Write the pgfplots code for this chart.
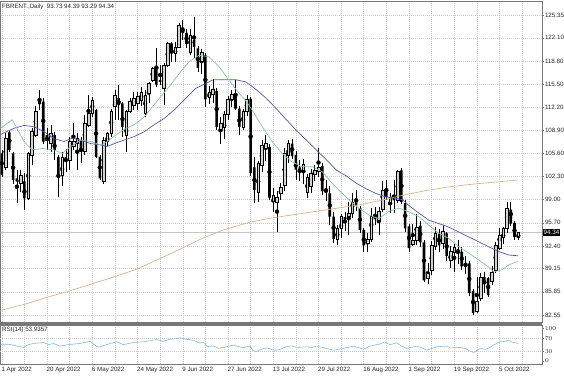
\documentclass[border=0pt]{standalone}
\usepackage{fontspec}
\setmainfont{Liberation Sans}
\usepackage{pgfplots}
\usepackage{pgfplotstable}
\pgfplotsset{compat=1.18}
\definecolor{gridc}{RGB}{205,205,205}
\definecolor{bullc}{RGB}{210,210,210}
\definecolor{maA}{RGB}{135,195,165}
\definecolor{maB}{RGB}{85,85,170}
\definecolor{maC}{RGB}{215,180,140}
\definecolor{rsic}{RGB}{130,185,230}
\definecolor{framec}{RGB}{120,120,120}
\newcommand\chfont{\fontsize{6.2bp}{7bp}\selectfont}

\pgfplotstableread{
x o h l c
0 105.6 106.1 102.3 102.5
1 103.7 108.5 103.2 107.75
2 108.6 109.0 105.85 106.1
3 105.6 105.85 101.3 101.8
4 102.05 103.2 98.5 101.57
5 101.3 103.2 100.15 102.5
6 101.6 102.8 97.5 99.2
7 99.2 105.85 98.96 105.6
8 105.4 109.2 103.95 108.7
9 108.2 112.3 108.0 111.56
10 113.2 114.65 111.8 112.65
11 113.0 113.5 107.0 107.3
12 108.2 109.2 106.1 107.5
13 107.0 109.65 105.85 108.5
14 108.2 108.7 104.66 106.1
15 105.1 105.4 99.4 102.3
16 102.5 105.85 100.9 105.1
17 105.1 106.3 103.0 104.8
18 104.66 108.0 103.2 107.3
19 106.6 109.9 106.1 107.3
20 107.0 108.5 103.2 107.75
21 107.5 108.0 104.2 105.85
22 105.85 111.1 105.4 109.9
23 109.65 113.9 109.4 111.3
24 111.3 113.7 110.85 113.2
25 111.8 112.0 104.9 105.1
26 105.1 105.4 101.8 102.05
27 101.57 108.0 101.3 107.5
28 107.3 108.7 106.6 108.5
29 108.5 112.0 108.0 111.56
30 112.3 114.65 110.4 113.9
31 113.5 115.4 110.4 112.5
32 112.75 113.0 108.0 109.4
33 108.2 111.8 105.85 111.56
34 111.56 113.5 111.3 113.0
35 112.5 114.4 111.8 113.5
36 112.75 114.4 111.8 113.8
37 113.2 115.1 112.3 114.4
38 111.3 114.65 110.85 113.9
39 114.2 115.8 112.75 115.6
40 116.1 118.0 115.8 117.7
41 118.0 120.6 115.1 115.4
42 116.1 118.2 115.4 115.8
43 114.9 118.45 112.5 118.2
44 118.2 121.55 118.0 121.3
45 121.3 121.55 118.7 120.1
46 119.9 121.55 118.7 120.8
47 120.8 124.2 120.6 123.9
48 123.6 124.6 121.8 122.8
49 122.8 123.4 120.6 121.2
50 120.0 123.3 119.6 122.4
51 121.8 125.1 119.2 120.8
52 120.6 121.0 117.2 117.8
53 118.7 120.5 117.0 120.1
54 119.6 120.0 112.2 113.3
55 113.6 115.2 112.6 114.3
56 114.0 116.2 112.8 114.8
57 114.5 114.9 109.0 109.4
58 109.0 110.8 107.0 109.9
59 109.4 111.6 107.6 111.2
60 111.2 113.8 110.4 113.4
61 113.4 114.6 112.2 114.0
62 114.0 116.1 111.8 112.0
63 112.0 112.4 108.2 109.4
64 109.4 112.0 109.0 111.6
65 111.6 113.9 111.0 113.4
66 113.4 113.6 102.4 102.8
67 103.6 105.1 98.5 100.4
68 100.1 104.5 98.7 104.2
69 103.9 107.5 103.0 106.8
70 106.3 108.3 104.5 107.1
71 106.5 106.9 99.0 99.3
72 98.8 100.6 97.2 99.6
73 98.7 100.2 94.4 99.3
74 99.9 101.4 98.9 100.8
75 101.0 106.4 100.2 105.7
76 105.3 107.5 104.2 107.0
77 107.0 107.6 104.8 105.2
78 105.4 106.0 101.8 103.3
79 103.6 104.6 101.6 102.9
80 103.2 104.8 101.3 104.0
81 100.0 102.6 99.3 102.2
82 100.9 103.4 100.0 102.8
83 102.6 104.0 101.6 103.2
84 103.0 106.4 102.2 103.7
85 103.8 104.2 99.6 100.2
86 100.6 101.8 98.8 100.0
87 99.9 101.0 95.4 96.6
88 96.6 97.2 92.8 93.4
89 93.3 95.4 92.6 94.9
90 94.9 97.0 93.5 96.6
91 96.5 97.2 94.6 96.2
92 96.6 98.7 94.0 97.1
93 97.1 99.9 96.4 98.6
94 99.0 100.4 97.4 98.2
95 97.8 98.1 94.2 94.7
96 94.7 95.0 91.6 92.5
97 92.8 94.2 91.6 93.3
98 93.3 97.8 93.0 96.6
99 96.8 98.0 95.4 96.2
100 96.0 98.0 93.9 97.4
101 97.6 101.6 97.2 100.4
102 100.6 101.8 98.9 99.4
103 98.7 99.9 97.1 99.4
104 99.5 101.8 97.1 98.9
105 98.9 103.3 98.5 103.0
106 103.2 103.5 98.4 98.7
107 98.5 99.0 94.4 94.9
108 95.2 95.6 91.5 92.1
109 92.7 95.5 92.4 93.2
110 93.2 96.9 92.6 95.1
111 95.3 95.9 92.3 92.9
112 92.9 93.3 87.3 87.5
113 87.8 90.0 87.0 88.5
114 89.0 93.1 88.2 92.5
115 92.3 95.1 91.8 94.2
116 94.2 94.8 91.6 92.5
117 92.8 95.4 92.0 94.5
118 94.2 94.4 90.3 91.0
119 90.4 92.4 89.2 91.6
120 91.5 92.7 88.7 92.2
121 92.0 93.3 89.8 91.4
122 91.6 92.3 88.9 89.5
123 90.0 91.0 88.4 89.6
124 89.9 90.2 85.2 85.7
125 86.0 86.3 82.5 82.8
126 83.1 88.0 82.8 84.5
127 84.9 88.5 84.6 88.0
128 88.0 88.7 85.7 87.3
129 87.8 88.0 85.1 85.4
130 87.4 89.6 86.9 88.7
131 89.0 93.0 88.5 92.5
132 92.1 94.9 91.8 93.9
133 93.7 95.1 92.7 94.9
134 94.9 98.7 94.3 97.8
135 97.6 98.7 95.2 95.6
136 95.7 96.0 93.2 93.7
137 93.73 94.39 93.29 94.34
}\candles

\pgfplotsset{
  mainax/.style={
    at={(0.5bp,54bp)}, anchor=south west,
    scale only axis, width=541.5bp, height=321bp,
    xmin=-0.345, xmax=143.29, ymin=81.55, ymax=127.35,
  },
  blankax/.style={mainax, axis lines=none, xtick=\empty, ytick=\empty},
}

\begin{document}
\begin{tikzpicture}
\useasboundingbox (0,0) rectangle (564bp,376bp);
% background: grid, wicks
\begin{axis}[mainax,
  axis line style={framec, line width=0.8bp},
  xtick={0,6,...,138}, xticklabels={},
  x tick style={draw=none},
  ytick={82.55,85.85,89.15,92.40,95.70,99.00,102.30,105.60,108.90,112.20,115.50,118.80,122.10,125.35},
  yticklabels={82.55,85.85,89.15,92.40,95.70,99.00,102.30,105.60,108.90,112.20,115.50,118.80,122.10,125.35},
  yticklabel pos=right,
  y tick style={framec, line width=0.5bp},
  tick align=outside, major tick length=2bp,
  yticklabel style={font=\chfont, inner sep=0.8bp, text=black!85},
  grid=major, grid style={gridc, line width=0.5bp, dash pattern=on 1bp off 1bp},
]
\addplot[gray!45, line width=0.5bp] coordinates {(-1,94.34) (150,94.34)};
\addplot[only marks, mark=none, error bars/.cd, y dir=both, y explicit, error mark=none,
  error bar style={black, line width=0.6bp}]
  table[x=x, y expr={(\thisrow{h}+\thisrow{l})/2}, y error expr={(\thisrow{h}-\thisrow{l})/2}] {\candles};
\end{axis}
% bodies
\begin{axis}[blankax, ybar stacked, bar width=2.6bp]
\addplot[draw=none, fill=none] table[x=x, y expr={min(\thisrow{o},\thisrow{c})}] {\candles};
\addplot[fill=bullc, draw=black, line width=0.45bp] table[x=x, y expr={max(\thisrow{c}-\thisrow{o},0)}] {\candles};
\addplot[fill=black, draw=none] table[x=x, y expr={max(\thisrow{o}-\thisrow{c},0)}] {\candles};
\end{axis}
% moving averages
\begin{axis}[blankax]
\addplot[maC, line width=0.7bp] coordinates {(-0.35,83.2) (6.2,84.1) (12.8,85.2) (18.1,86.0) (23.4,86.9) (28.7,87.8) (35.8,89.1) (42,90.6) (47.5,92.0) (52.8,93.4) (58.9,94.7) (65.2,95.7) (70.5,96.3) (76.7,96.8) (82.9,97.3) (89.1,97.8) (95.2,98.3) (100.5,98.9) (105.3,99.5) (112.4,100.3) (119.5,100.9) (126.5,101.3) (134.9,101.7) (136.9,101.8)};
\addplot[maB, line width=0.7bp] coordinates {(-0.35,108.3) (3.3,109.2) (5.9,109.6) (8.6,109.4) (11.2,108.7) (13.9,107.7) (16.5,107.3) (18.8,107.8) (21,107.5) (23.6,107.0) (26.3,106.8) (28,106.6) (29.8,107.0) (32.4,107.5) (35.1,108.0) (37.8,108.7) (40.4,109.7) (43.1,110.6) (45.7,111.8) (48.9,113.5) (51.5,114.9) (54.2,115.6) (56,116.1) (59.5,116.1) (62.2,116.1) (64.8,115.8) (67.5,114.7) (70.1,113.5) (72.8,112.0) (75.5,110.4) (78.1,108.9) (80.8,107.5) (83.4,106.1) (86.1,104.7) (88.8,103.2) (91.3,102.4) (93.9,101.4) (96.5,100.6) (99.2,99.9) (101.9,99.4) (104.5,99.2) (106.3,99.0) (107.9,98.2) (110.6,97.1) (113.2,96.1) (115.9,95.6) (118.5,95.1) (121.2,94.4) (123.8,93.7) (126.5,93.0) (129.1,92.3) (131.8,91.6) (134.5,91.1) (136.9,91.0)};
\addplot[maA, line width=0.7bp] coordinates {(-0.35,109.2) (2.8,110.4) (5.9,107.3) (8.1,106.1) (10.8,106.3) (13.9,106.1) (16.1,105.6) (18.3,106.6) (21,107.5) (23.6,107.3) (26.3,106.8) (28,107.3) (30.2,108.2) (32.4,109.0) (35.1,109.7) (37.8,110.8) (40,112.3) (42.2,113.7) (44.8,115.4) (47.5,117.3) (49.7,118.7) (52.3,119.6) (54.9,119.4) (57.6,118.0) (60.2,116.1) (62.9,114.2) (64.6,113.2) (66.4,111.8) (69.1,109.4) (71.7,107.3) (74.4,105.6) (77,104.4) (79.7,103.7) (82.3,103.7) (85,103.0) (87.7,101.3) (90.3,99.9) (92.5,98.8) (94.7,97.8) (97.4,96.8) (100,96.3) (102.6,97.3) (105.3,97.8) (107.9,97.3) (110.6,96.6) (113.2,95.4) (115.9,94.2) (118.5,93.5) (121.2,92.3) (123.8,91.4) (126.5,90.4) (129.1,89.4) (130.5,88.7) (132.7,89.0) (134.5,89.7) (136.9,90.2)};
\end{axis}
% RSI panel
\begin{axis}[at={(0.5bp,12bp)}, anchor=south west, scale only axis,
  width=541.5bp, height=39bp,
  xmin=-0.345, xmax=143.29, ymin=-9.2, ymax=110.1,
  axis line style={framec, line width=0.8bp},
  xtick={0,6,...,138},
  xticklabels={1 Apr 2022,{},20 Apr 2022,{},6 May 2022,{},24 May 2022,{},9 Jun 2022,{},27 Jun 2022,{},13 Jul 2022,{},29 Jul 2022,{},16 Aug 2022,{},1 Sep 2022,{},19 Sep 2022,{},5 Oct 2022,{}},
  xticklabel style={font=\chfont, anchor=north west, inner sep=0.5bp, xshift=-1bp, text=black!85},
  x tick style={draw=none},
  xmajorgrids, grid style={gridc, line width=0.5bp, dash pattern=on 1bp off 1bp},
  ytick={0,100}, extra y ticks={30,70}, extra y tick style={ymajorgrids},
  yticklabel pos=right,
  yticklabel style={font=\chfont, inner sep=0.8bp, text=black!85},
  tick align=outside, major tick length=2bp, y tick style={framec, line width=0.5bp},
]
\addplot[rsic, line width=0.6bp] coordinates {(-0.35,51.5) (2.2,50.5) (4,46) (5.7,41.5) (7,50) (8.4,53.6) (11,56.6) (12.5,50) (13.7,53.6) (15.4,45.5) (18.1,50.5) (20.7,53.6) (23.4,60) (25.2,44) (26,43) (28.7,53.6) (30.5,58.6) (32.2,50) (34.9,56.6) (37.5,58.6) (41.1,65.6) (42.8,60) (44.6,66.7) (46.4,68) (47.3,71) (49,66) (50.8,63.6) (52.5,55) (53.5,58) (54.5,44) (56.1,46) (57.5,39) (58.8,41.4) (61.4,48.5) (62.5,45) (64.1,41) (65.8,46) (66.7,31) (67.5,29) (69.4,38.4) (70.5,40) (72,33.3) (73.5,34) (75.6,44) (77,46) (78.2,41.4) (80.9,43.4) (82.2,41) (83.5,45.5) (86.2,38.4) (88,33) (90.6,38.4) (93.3,45.5) (95.9,36) (97.7,45.5) (100.3,52) (101.5,58.6) (103,50) (104.7,55.6) (106,46) (107.4,38.4) (110,45.5) (111.5,40) (112.7,33.3) (115.3,43.4) (118,45.5) (119,40) (121.5,41.4) (123,38) (124.2,30) (125.2,26) (126.9,38) (128.5,36) (129.5,42) (131,52) (132.2,58.6) (133.5,60) (134.4,63.6) (135.5,57) (137,53.94)};
\end{axis}
% separator and texts
\fill[framec] (0,51.3bp) rectangle (542bp,53.8bp);
\node[anchor=west, font=\chfont, inner sep=0pt, text=black!85] at (2bp,369.3bp) {FBRENT.,Daily\ \ 93.73 94.39 93.29 94.34};
\node[anchor=west, font=\chfont, inner sep=0pt, text=black!85] at (2bp,46.5bp) {RSI(14) 53.9357};
\node[anchor=west, fill=black, text=white, font=\chfont, inner xsep=1bp, inner ysep=1bp] at (542.5bp,143.6bp) {94.34};
\end{tikzpicture}
\end{document}
